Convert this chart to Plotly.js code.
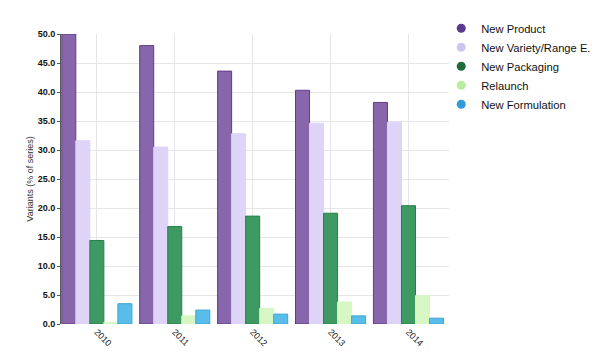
<!DOCTYPE html>
<html>
<head>
<meta charset="utf-8">
<script src="https://cdn.plot.ly/plotly-3.0.1.min.js"></script>
<style>html,body{margin:0;padding:0;background:#fff;}#chart{width:604px;height:362px;}</style>
</head>
<body>
<div id="chart"></div>
<script>
var years = ["2010", "2011", "2012", "2013", "2014"];
var seriesNames = ["New Product", "New Variety/Range E.", "New Packaging", "Relaunch", "New Formulation"];
var newProduct = [50.0, 48.0, 43.6, 40.3, 38.2];
var newVariety = [31.6, 30.5, 32.8, 34.6, 34.8];
var newPackaging = [14.4, 16.8, 18.6, 19.1, 20.4];
var relaunch = [0.3, 1.4, 2.7, 3.8, 4.9];
var newFormulation = [3.5, 2.4, 1.7, 1.4, 1.0];
var yTicks = [0, 5, 10, 15, 20, 25, 30, 35, 40, 45, 50];

var values = [newProduct, newVariety, newPackaging, relaunch, newFormulation];
var fills = ["#8766ab", "#ddd4f7", "#3d9a63", "#d6f6c4", "#58bee9"];
var lines = ["#5f3d88", "#ddd4f7", "#2a7d4b", "#d6f6c4", "#3ea3d3"];
var legendColors = ["#5a3a8c", "#cfc6f0", "#1e6c3e", "#b8eca2", "#2f9bd8"];
var xIdx = years.map(function(_, i){ return i; });

var traces = [];
values.forEach(function(v, i){
  traces.push({
    type: "bar", x: xIdx, y: v, name: seriesNames[i], legendgroup: "g" + i,
    showlegend: false,
    marker: {color: fills[i], line: {color: lines[i], width: 1}},
    hoverinfo: "y"
  });
});
seriesNames.forEach(function(n, i){
  traces.push({
    type: "scatter", mode: "markers", x: [null], y: [null], name: n,
    legendgroup: "g" + i, showlegend: true,
    marker: {color: legendColors[i], size: 9, symbol: "circle"}
  });
});

var layout = {
  width: 604, height: 362,
  margin: {l: 61, r: 155, t: 34, b: 38, autoexpand: false},
  paper_bgcolor: "#fff", plot_bgcolor: "#fff",
  barmode: "group", bargap: 0.1, bargroupgap: 0,
  font: {family: "Liberation Sans, Arial, sans-serif", color: "#222"},
  xaxis: {
    range: [-0.46, 4.52], tickvals: xIdx, ticktext: years, tickangle: 45,
    showgrid: true, gridcolor: "#e6e6e6", zeroline: false, showline: false,
    ticks: "", tickfont: {size: 9, color: "#222"}
  },
  yaxis: {
    range: [0, 50], tickvals: yTicks, tickformat: ".1f",
    showgrid: true, gridcolor: "#e6e6e6", zeroline: false,
    showline: true, linecolor: "#555", linewidth: 1,
    ticks: "outside", ticklen: 3, tickcolor: "#555",
    tickfont: {size: 9, color: "#111", family: "Liberation Sans, Arial, sans-serif", weight: "bold"},
    title: {text: "Variants (% of series)", font: {size: 9, color: "#333"}, standoff: 2}
  },
  legend: {
    x: 0.98, xanchor: "left", y: 1.07, yanchor: "top",
    tracegroupgap: 0,
    font: {size: 11.2, color: "#111"}, bgcolor: "rgba(0,0,0,0)",
    itemclick: false, itemdoubleclick: false
  },
  showlegend: true
};

Plotly.newPlot("chart", traces, layout, {displayModeBar: false, staticPlot: true});
</script>
</body>
</html>
